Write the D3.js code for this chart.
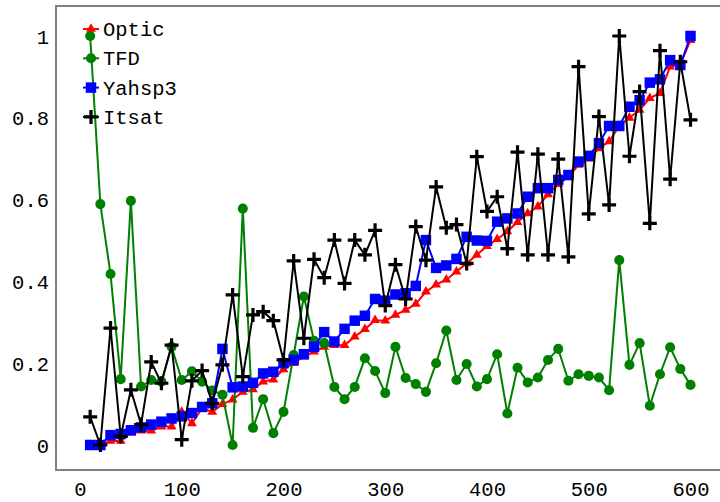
<!DOCTYPE html>
<html>
<head>
<meta charset="utf-8">
<script src="https://cdnjs.cloudflare.com/ajax/libs/d3/7.8.5/d3.min.js"></script>
<style>
    body { margin: 0; background: #fff; }
    text { font-family: "Liberation Mono", "DejaVu Sans Mono", monospace; font-size: 20.5px; fill: #000; }
</style>
</head>
<body>
<div id="chart"></div>
<script>
    // problem sizes on x, one value per run
    var problems = d3.range(10, 610, 10);

    var optic = [0, 0, 0.01, 0.01, 0.03, 0.035, 0.035, 0.045, 0.045, 0.081,
        0.053, 0.09, 0.081, 0.1, 0.111, 0.13, 0.136, 0.155, 0.16, 0.185,
        0.2, 0.216, 0.228, 0.24, 0.244, 0.244, 0.265, 0.283, 0.305, 0.304,
        0.318, 0.33, 0.345, 0.375, 0.392, 0.404, 0.424, 0.444, 0.465, 0.486,
        0.503, 0.522, 0.545, 0.566, 0.583, 0.613, 0.638, 0.655, 0.685, 0.7,
        0.725, 0.742, 0.78, 0.8, 0.819, 0.848, 0.86, 0.925, 0.93, 0.99];

    var tfd = [1.0, 0.589, 0.418, 0.161, 0.597, 0.143, 0.159, 0.155, 0.24, 0.159,
        0.18, 0.155, 0.133, 0.123, 0.0, 0.578, 0.042, 0.112, 0.029, 0.081,
        0.22, 0.363, 0.255, 0.249, 0.142, 0.112, 0.142, 0.212, 0.181, 0.127,
        0.24, 0.164, 0.149, 0.13, 0.2, 0.28, 0.159, 0.198, 0.143, 0.161,
        0.222, 0.077, 0.189, 0.153, 0.165, 0.208, 0.235, 0.157, 0.173, 0.169,
        0.165, 0.134, 0.452, 0.196, 0.249, 0.096, 0.173, 0.239, 0.186, 0.147];

    var yahsp3 = [0, 0, 0.024, 0.027, 0.036, 0.043, 0.05, 0.057, 0.065, 0.07,
        0.078, 0.093, 0.102, 0.235, 0.141, 0.143, 0.152, 0.175, 0.179, 0.2,
        0.208, 0.222, 0.24, 0.276, 0.253, 0.284, 0.304, 0.316, 0.357, 0.353,
        0.368, 0.371, 0.389, 0.501, 0.433, 0.439, 0.455, 0.509, 0.5, 0.499,
        0.546, 0.554, 0.566, 0.607, 0.628, 0.628, 0.648, 0.66, 0.693, 0.707,
        0.738, 0.78, 0.78, 0.827, 0.843, 0.886, 0.894, 0.941, 0.929, 1.0];

    var itsat = [0.069, 0.0, 0.286, 0.021, 0.135, 0.05, 0.203, 0.151, 0.244, 0.013,
        0.157, 0.182, 0.102, 0.196, 0.367, 0.167, 0.318, 0.326, 0.304, 0.208,
        0.45, 0.261, 0.454, 0.409, 0.501, 0.395, 0.501, 0.465, 0.525, 0.341,
        0.441, 0.357, 0.534, 0.452, 0.631, 0.531, 0.539, 0.444, 0.705, 0.571,
        0.607, 0.48, 0.716, 0.465, 0.711, 0.465, 0.699, 0.46, 0.925, 0.565,
        0.803, 0.587, 1.0, 0.706, 0.864, 0.542, 0.964, 0.65, 0.937, 0.795];

    var seriesNames = ["Optic", "TFD", "Yahsp3", "Itsat"];
    var xTicks = [0, 100, 200, 300, 400, 500, 600];
    var yTicks = [0, 0.2, 0.4, 0.6, 0.8, 1];

    var width = 720, height = 502;

    var svg = d3.select("#chart").append("svg")
            .attr("width", width)
            .attr("height", height);

    var x = d3.scaleLinear().domain([0, 600]).range([80, 690.5]);
    var y = d3.scaleLinear().domain([0, 1]).range([445, 36]);

    //frame (right edge runs out of the picture)
    svg.append("rect")
            .attr("x", 56)
            .attr("y", 6)
            .attr("width", 700)
            .attr("height", 464)
            .attr("fill", "none")
            .attr("stroke", "#808080")
            .attr("stroke-width", 2);

    //tick labels only, no tick marks
    var xAxis = svg.append("g")
            .attr("transform", "translate(0,496)")
            .call(d3.axisBottom(x).tickValues(xTicks).tickSize(0).tickPadding(0)
                    .tickFormat(d3.format("d")));
    var yAxis = svg.append("g")
            .attr("transform", "translate(49,0)")
            .call(d3.axisLeft(y).tickValues(yTicks).tickSize(0).tickPadding(0)
                    .tickFormat(function (d) { return d === 0 || d === 1 ? d : d3.format(".1f")(d); }));
    [xAxis, yAxis].forEach(function (a) {
        a.select(".domain").remove();
        a.attr("font-family", null).attr("font-size", null);
    });
    xAxis.selectAll("text").attr("dy", 0);
    yAxis.selectAll("text").attr("dy", "0.35em");

    var styles = {
        "Optic": {color: "#ff0000", symbol: d3.symbolTriangle, size: 42, data: optic},
        "TFD": {color: "#008000", symbol: d3.symbolCircle, size: 80, data: tfd},
        "Yahsp3": {color: "#0000ff", symbol: d3.symbolSquare, size: 110, data: yahsp3},
        "Itsat": {color: "#000000", symbol: null, size: 0, data: itsat}
    };

    var line = d3.line()
            .x(function (d) { return x(d.x); })
            .y(function (d) { return y(d.v); });

    function drawMarker(g, s, cx, cy) {
        if (s.symbol) {
            g.append("path")
                    .attr("d", d3.symbol().type(s.symbol).size(s.size)())
                    .attr("transform", "translate(" + cx + "," + cy + ")")
                    .attr("fill", s.color);
        } else {
            //plus sign
            g.append("path")
                    .attr("d", "M-7,0H7M0,-7V7")
                    .attr("transform", "translate(" + cx + "," + cy + ")")
                    .attr("stroke", s.color)
                    .attr("stroke-width", 3.2)
                    .attr("fill", "none");
        }
    }

    seriesNames.forEach(function (name) {
        var s = styles[name];
        var pts = problems.map(function (p, i) { return {x: p, v: s.data[i]}; });
        var g = svg.append("g").attr("class", "series");
        g.append("path")
                .datum(pts)
                .attr("d", line)
                .attr("fill", "none")
                .attr("stroke", s.color)
                .attr("stroke-width", 2);
        pts.forEach(function (d) {
            drawMarker(g, s, x(d.x), y(d.v));
        });
    });

    //legend
    var legend = svg.append("g").attr("class", "legend");
    seriesNames.forEach(function (name, i) {
        var s = styles[name];
        var ly = 29 + i * 29.3;
        legend.append("line")
                .attr("x1", 83).attr("x2", 99)
                .attr("y1", ly).attr("y2", ly)
                .attr("stroke", s.color)
                .attr("stroke-width", 2);
        drawMarker(legend, s, 91, ly);
        legend.append("text")
                .attr("x", 103)
                .attr("y", ly)
                .attr("dy", "0.35em")
                .text(name);
    });
</script>
</body>
</html>
